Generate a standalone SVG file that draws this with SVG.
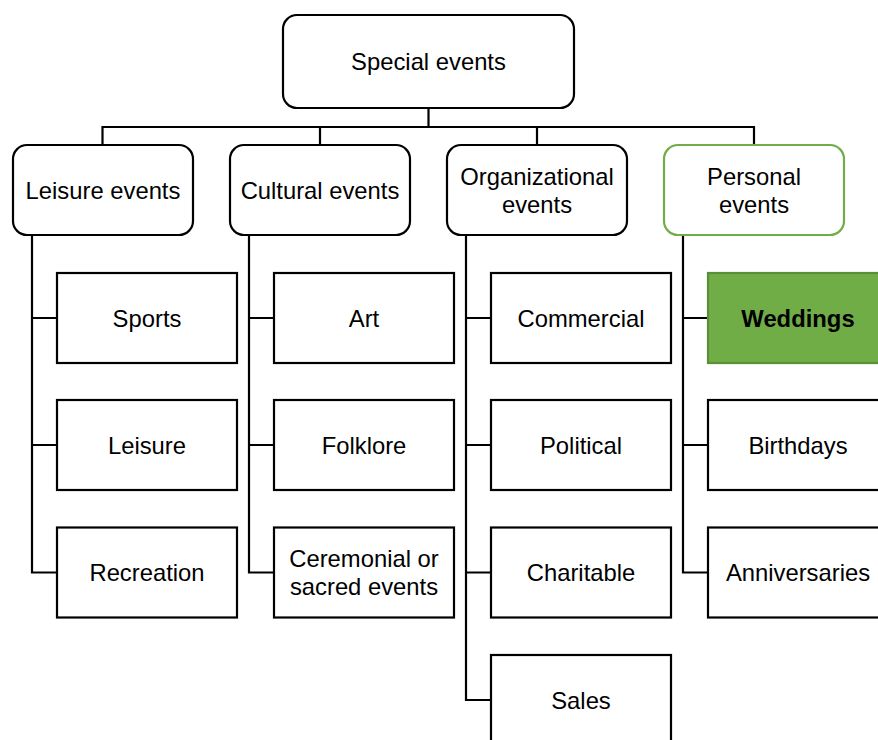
<svg xmlns="http://www.w3.org/2000/svg" width="878" height="740" viewBox="0 0 878 740">
<style>
.rb{fill:#fff;stroke:#000;stroke-width:2.2}
.bx{fill:#fff;stroke:#000;stroke-width:2.2}
.gr{fill:#fff;stroke:#70ad47;stroke-width:2.2}
.gf{fill:#70ad47;stroke:#5a8f38;stroke-width:2.2}
.c{fill:none;stroke:#000;stroke-width:2.2}
text{font-family:"Liberation Sans",Arial,sans-serif;font-size:23.8px;fill:#000;text-anchor:middle;dominant-baseline:central}
.b{font-weight:bold}
</style>
<rect width="878" height="740" fill="#fff"/>
<g id="connectors">
<path class="c" d="M428.5 108V127M102.5 145V127H754V145M320 127V145M537 127V145"/>
<path class="c" d="M32 235V572.5H57M32 318H57M32 445H57"/>
<path class="c" d="M249 235V572.5H274M249 318H274M249 445H274"/>
<path class="c" d="M466 235V700H491M466 318H491M466 445H491M466 572.5H491"/>
<path class="c" d="M683 235V572.5H708M683 318H708M683 445H708"/>
</g>
<g id="special"><rect class="rb" x="283" y="15" width="291" height="93" rx="14"/><text x="428.5" y="61">Special events</text></g>
<g id="leisure-events"><rect class="rb" x="13" y="145" width="180" height="90" rx="14"/><text x="103" y="190">Leisure events</text></g>
<g id="cultural-events"><rect class="rb" x="230" y="145" width="180" height="90" rx="14"/><text x="320" y="190">Cultural events</text></g>
<g id="organizational-events"><rect class="rb" x="447" y="145" width="180" height="90" rx="14"/><text x="537" y="176">Organizational</text><text x="537" y="204">events</text></g>
<g id="personal-events"><rect class="gr" x="664" y="145" width="180" height="90" rx="14"/><text x="754" y="176">Personal</text><text x="754" y="204">events</text></g>
<g id="sports"><rect class="bx" x="57" y="273" width="180" height="90"/><text x="147" y="318">Sports</text></g>
<g id="leisure"><rect class="bx" x="57" y="400" width="180" height="90"/><text x="147" y="445">Leisure</text></g>
<g id="recreation"><rect class="bx" x="57" y="527.5" width="180" height="90"/><text x="147" y="572.5">Recreation</text></g>
<g id="art"><rect class="bx" x="274" y="273" width="180" height="90"/><text x="364" y="318">Art</text></g>
<g id="folklore"><rect class="bx" x="274" y="400" width="180" height="90"/><text x="364" y="445">Folklore</text></g>
<g id="ceremonial"><rect class="bx" x="274" y="527.5" width="180" height="90"/><text x="364" y="558.5">Ceremonial or</text><text x="364" y="586.5">sacred events</text></g>
<g id="commercial"><rect class="bx" x="491" y="273" width="180" height="90"/><text x="581" y="318">Commercial</text></g>
<g id="political"><rect class="bx" x="491" y="400" width="180" height="90"/><text x="581" y="445">Political</text></g>
<g id="charitable"><rect class="bx" x="491" y="527.5" width="180" height="90"/><text x="581" y="572.5">Charitable</text></g>
<g id="sales"><rect class="bx" x="491" y="655" width="180" height="90"/><text x="581" y="700">Sales</text></g>
<g id="weddings"><rect class="gf" x="708" y="273" width="180" height="90"/><text class="b" x="798" y="318">Weddings</text></g>
<g id="birthdays"><rect class="bx" x="708" y="400" width="180" height="90"/><text x="798" y="445">Birthdays</text></g>
<g id="anniversaries"><rect class="bx" x="708" y="527.5" width="180" height="90"/><text x="798" y="572.5">Anniversaries</text></g>
</svg>
